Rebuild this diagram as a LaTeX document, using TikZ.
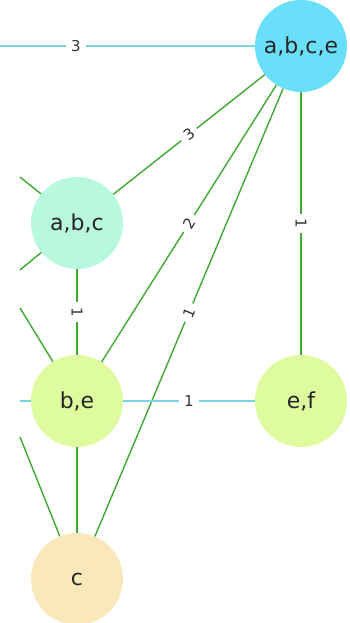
\documentclass[tikz,border=0pt]{standalone}
\usepackage{fontspec}
\setmainfont{DejaVu Sans}
\definecolor{cblue}{RGB}{106,223,250}
\definecolor{cmint}{RGB}{184,248,222}
\definecolor{clime}{RGB}{222,251,160}
\definecolor{cwheat}{RGB}{249,233,186}
\definecolor{egreen}{RGB}{62,170,50}
\definecolor{ecyan}{RGB}{120,212,226}
\tikzset{
  vtx/.style={circle,draw=none,minimum size=92pt,inner sep=0pt,font=\fontsize{22}{26}\selectfont,text=black!85},
  gedge/.style={draw=egreen,line width=1.4pt},
  cedge/.style={draw=ecyan,line width=1.4pt},
  elab/.style={fill=white,inner xsep=5pt,inner ysep=3pt,font=\fontsize{15}{17}\selectfont,text=black!80}
}
\begin{document}
\begin{tikzpicture}[x=1pt,y=-1pt]
\useasboundingbox (0,0) rectangle (349,623);
% free ends
\coordinate (t0) at (0,46);
\coordinate (l1) at (20,177);
\coordinate (l2) at (20,270);
\coordinate (l3) at (20,308);
\coordinate (l4) at (20,401);
\coordinate (l5) at (20,437);
% nodes
\node[vtx,fill=cblue] (abce) at (301,46) {a,b,c,e};
\node[vtx,fill=cmint] (abc) at (77,223) {a,b,c};
\node[vtx,fill=clime] (be) at (77,401) {b,e};
\node[vtx,fill=clime] (ef) at (301,401) {e,f};
\node[vtx,fill=cwheat] (c) at (77,579) {c};
% edges
\draw[cedge] (t0) -- (abce);
\draw[gedge] (l1) -- (abc);
\draw[gedge] (l2) -- (abc);
\draw[gedge] (l3) -- (be);
\draw[cedge] (l4) -- (be);
\draw[gedge] (l5) -- (c);
\draw[gedge] (abc) -- (abce);
\draw[gedge] (be) -- (abce);
\draw[gedge] (c) -- (abce);
\draw[gedge] (abce) -- (ef);
\draw[gedge] (abc) -- (be);
\draw[gedge] (be) -- (c);
\draw[cedge] (be) -- (ef);
% labels
\node[elab] (lt) at (76,46) {3};
\node[elab,rotate=38.3] (la) at (189,134.5) {3};
\node[elab,rotate=57.7] (lb) at (189,223.5) {2};
\node[elab,rotate=67.2] (lc) at (189,312.5) {1};
\node[elab,rotate=-90] (ld) at (301,223.5) {1};
\node[elab,rotate=-90] (le) at (77,312) {1};
\node[elab] (lf) at (189,401) {1};
\end{tikzpicture}
\end{document}
